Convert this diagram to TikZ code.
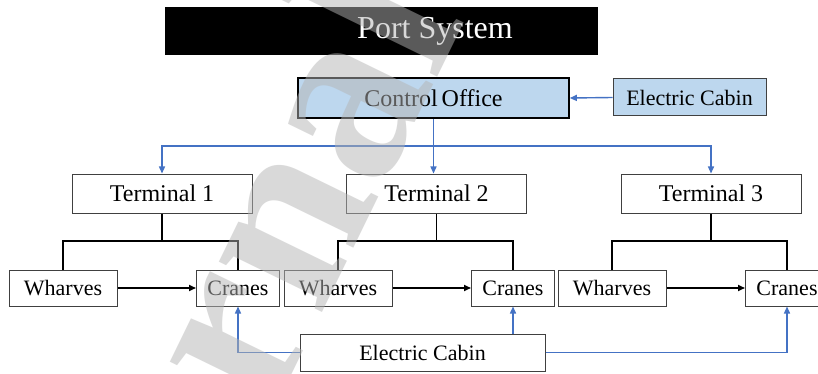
\documentclass[tikz,border=0pt]{standalone}
\usepackage{fontspec}
\setmainfont{Liberation Serif}
\usetikzlibrary{arrows.meta}

\definecolor{linkblue}{RGB}{68,114,196}
\definecolor{paleblue}{RGB}{189,215,238}
\definecolor{boxline}{RGB}{64,64,64}
\definecolor{markgray}{RGB}{180,180,180}

\tikzset{
  unit/.style={draw=boxline, line width=1pt, fill=white, inner sep=0pt,
               minimum height=36pt, font=\fontsize{22}{24}\selectfont},
  termbox/.style={unit, minimum width=180pt, minimum height=39pt,
                  font=\fontsize{24}{26}\selectfont},
  wharfbox/.style={unit, minimum width=108pt},
  cranebox/.style={unit, minimum width=83pt},
  bluebox/.style={unit, fill=paleblue},
  bluelink/.style={draw=linkblue, line width=1.4pt,
                   -{Triangle[length=7pt,width=6pt]}},
  treeline/.style={draw=black, line width=1.8pt},
  flowlink/.style={draw=black, line width=1.6pt,
                   -{Triangle[length=7pt,width=6pt]}},
}

\begin{document}
\begin{tikzpicture}[x=1pt, y=-1pt]
\useasboundingbox (0,0) rectangle (818,374);
\clip (0,0) rectangle (818,374);
\fill[white] (0,0) rectangle (818,374);

% heading bar
\fill[black] (165,7) rectangle (598,55);
\node[text=white, font=\fontsize{32}{34}\selectfont, inner sep=0pt] (title) at (435,31) {Port System};

% control level
\node[bluebox, draw=black, line width=1.6pt, minimum width=271pt, minimum height=40pt,
      font=\fontsize{24}{26}\selectfont] (ctrl) at (433.5,98) {Control\,Office};
\node[bluebox, minimum width=153pt, minimum height=37pt] (ecTop) at (689.5,97.5) {Electric Cabin};

% terminals
\node[termbox] (t1) at (162,193.5) {Terminal 1};
\node[termbox] (t2) at (436.5,193.5) {Terminal 2};
\node[termbox] (t3) at (711,193.5) {Terminal 3};

% wharves and cranes
\node[wharfbox]  (w1) at (63,288) {Wharves};
\node[cranebox]  (c1) at (238,288) {Cranes};
\node[wharfbox]  (w2) at (338,288) {Wharves};
\node[cranebox]  (c2) at (513,288) {Cranes};
\node[wharfbox]  (w3) at (612,288) {Wharves};
\node[cranebox]  (c3) at (787,288) {Cranes};

% power supply at the bottom
\node[unit, minimum width=245pt, minimum height=37pt] (ecBot) at (422.5,352.5) {Electric Cabin};

% power to the control office
\draw[bluelink] (ecTop.west) -- (ctrl.east);

% control office to the terminals
\coordinate (bus) at (ctrl.south |- 0,146);
\draw[bluelink] (ctrl.south) -- (ctrl.south |- t2.north);
\draw[bluelink] (bus) -| (t1.north);
\draw[bluelink] (bus) -| (t3.north);

% terminal branches
\foreach \t/\w/\c in {t1/w1/c1, t2/w2/c2, t3/w3/c3}{
  \coordinate (\t-fork) at (\t.south |- 0,241);
  \draw[treeline] (\t.south) -- (\t-fork);
  \draw[treeline] (\w.north) |- (\t-fork) -| (\c.north);
  \draw[flowlink] (\w.east) -- (\c.west);
}

% power to the cranes
\draw[bluelink] (ecBot.west) -| (c1.south);
\draw[bluelink] (ecBot.north -| c2.south) -- (c2.south);
\draw[bluelink] (ecBot.east) -| (c3.south);

% translucent diagonal mark over the page
\node[text=markgray, text opacity=0.5, font=\bfseries\fontsize{250}{250}\selectfont,
      rotate=64, anchor=base west, inner sep=0pt] (mark) at (100,768) {Journal Pre-proof};
\end{tikzpicture}
\end{document}
